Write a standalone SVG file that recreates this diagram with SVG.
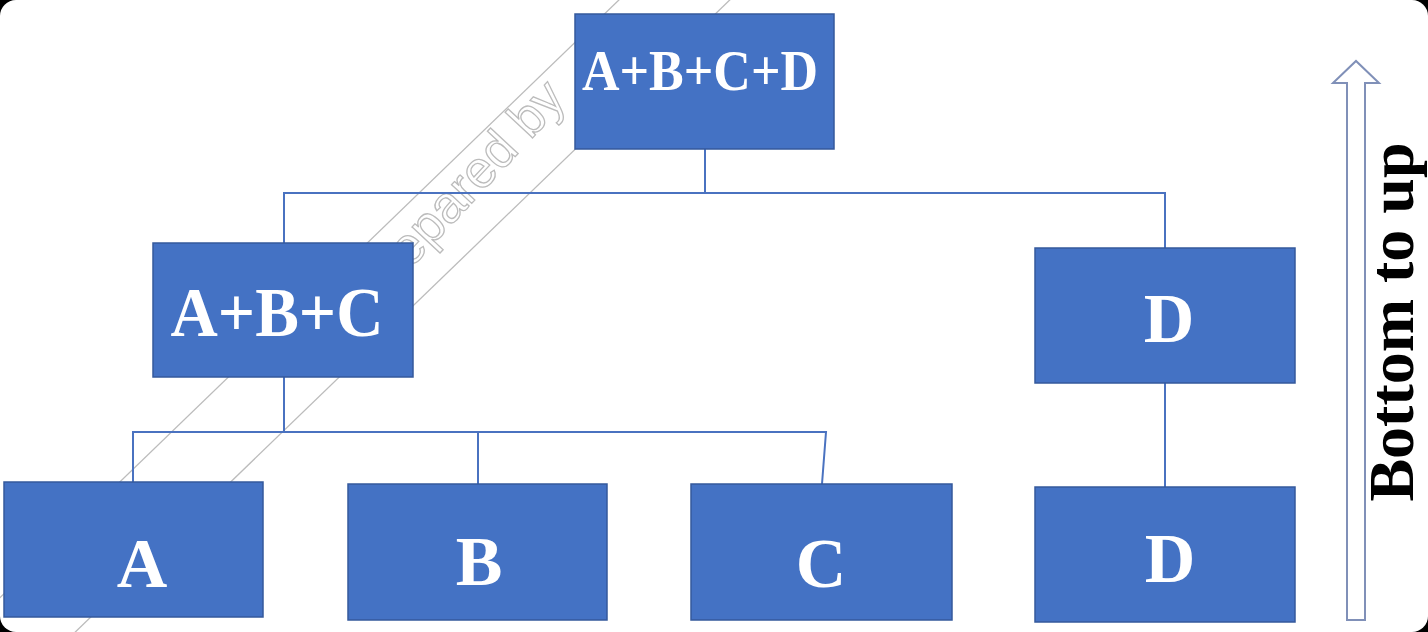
<svg xmlns="http://www.w3.org/2000/svg" width="1428" height="632" viewBox="0 0 1428 632">
<style>
.node rect{fill:#4472C4;stroke:#35599c;stroke-width:1.5}
.node text{font-family:"Liberation Serif","Times New Roman",serif;font-weight:bold;fill:#ffffff;text-anchor:middle}
.conn{stroke:#4a72c0;stroke-width:2;fill:none}
.wm{fill:none;stroke:#bcbcbc;stroke-width:1.3}
</style>
<rect x="0" y="0" width="1428" height="632" fill="#000000"/>
<rect x="0" y="0" width="1428" height="632" rx="16" ry="16" fill="#ffffff"/>
<g id="watermark" transform="translate(390,285) rotate(-44)">
  <line class="wm" x1="-700" y1="-46" x2="700" y2="-46"/>
  <line class="wm" x1="-700" y1="31" x2="700" y2="31"/>
  <text class="wm" x="-27" y="4" font-family="Liberation Sans, Arial, sans-serif" font-size="52" transform="rotate(-3)">Prepared by</text>
</g>
<g id="connectors">
  <polyline class="conn" points="705,149 705,193"/>
  <polyline class="conn" points="284,243 284,193 1165,193 1165,248"/>
  <polyline class="conn" points="284,377 284,432"/>
  <polyline class="conn" points="133,482 133,432 826,432 822,484"/>
  <polyline class="conn" points="478,432 478,484"/>
  <polyline class="conn" points="1165,383 1165,487"/>
</g>
<g id="node-abcd" class="node">
  <rect x="575" y="14" width="259" height="135"/>
  <text x="700" y="90" font-size="56" textLength="236" lengthAdjust="spacingAndGlyphs">A+B+C+D</text>
</g>
<g id="node-abc" class="node">
  <rect x="153" y="243" width="260" height="134"/>
  <text x="277" y="336" font-size="70" textLength="213" lengthAdjust="spacingAndGlyphs">A+B+C</text>
</g>
<g id="node-d-top" class="node">
  <rect x="1035" y="248" width="260" height="135"/>
  <text x="1169" y="342" font-size="70">D</text>
</g>
<g id="node-a" class="node">
  <rect x="4" y="482" width="259" height="135"/>
  <text x="142" y="587" font-size="70">A</text>
</g>
<g id="node-b" class="node">
  <rect x="348" y="484" width="259" height="136"/>
  <text x="479" y="585" font-size="70">B</text>
</g>
<g id="node-c" class="node">
  <rect x="691" y="484" width="261" height="136"/>
  <text x="821" y="587" font-size="70">C</text>
</g>
<g id="node-d-bottom" class="node">
  <rect x="1035" y="487" width="260" height="135"/>
  <text x="1170" y="582" font-size="70">D</text>
</g>
<g id="direction">
  <path d="M1347,620 L1347,83 L1333,83 L1356,61 L1379,83 L1365,83 L1365,620 Z" fill="#ffffff" stroke="#8090b8" stroke-width="2" stroke-linejoin="miter"/>
  <text transform="translate(1413,322) rotate(-90)" font-family="Liberation Serif, 'Times New Roman', serif" font-weight="bold" font-size="64" text-anchor="middle" fill="#000000">Bottom to up</text>
</g>
</svg>
